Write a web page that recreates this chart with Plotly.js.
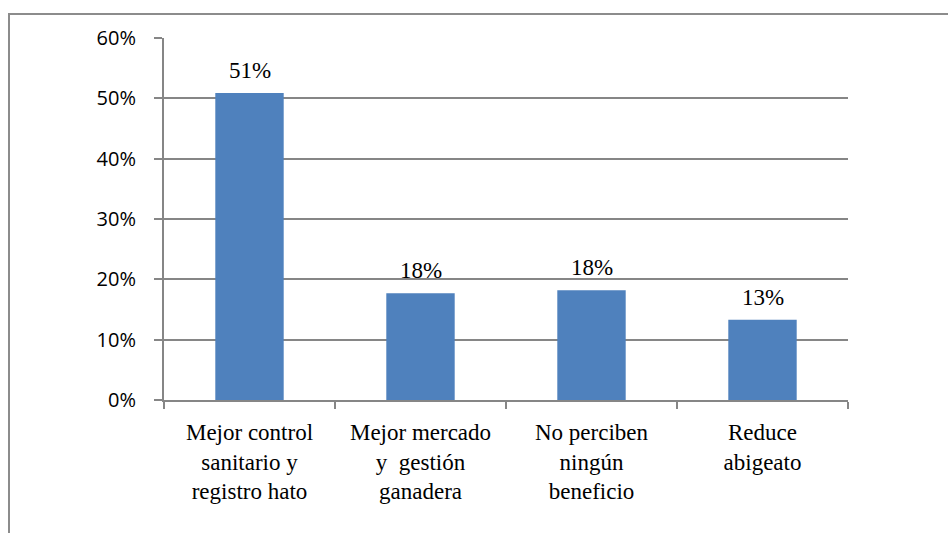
<!DOCTYPE html>
<html>
<head>
<meta charset="utf-8">
<script src="https://cdn.plot.ly/plotly-3.0.1.min.js"></script>
<style>
html,body{margin:0;padding:0;background:#fff;}
#chart{width:948px;height:533px;}
#frame{position:absolute;left:8px;top:13px;width:960px;height:560px;border:2px solid #8c8c8c;pointer-events:none;box-sizing:border-box;}
</style>
</head>
<body>
<div id="chart"></div>
<div id="frame"></div>
<script>
const categories = ["Mejor control<br>sanitario y<br>registro hato", "Mejor mercado<br>y  gestión<br>ganadera", "No perciben<br>ningún<br>beneficio", "Reduce<br>abigeato"];
const values = [0.509, 0.177, 0.182, 0.133];
const valueLabels = ["51%", "18%", "18%", "13%"];
const yTickVals = [0, 0.1, 0.2, 0.3, 0.4, 0.5, 0.6];
const yTickText = ["0%", "10%", "20%", "30%", "40%", "50%", "60%"];

const serif = "'Liberation Serif', 'Times New Roman', serif";

const trace = {
  type: "bar",
  x: categories,
  y: values,
  marker: {color: "#4F81BD"},
  hoverinfo: "none"
};

const annotations = categories.map((c, i) => ({
  x: c, y: values[i], xref: "x", yref: "y",
  text: valueLabels[i], showarrow: false,
  yanchor: "bottom", yshift: 8,
  font: {family: serif, size: 23, color: "#000"}
}));

const layout = {
  width: 948, height: 533,
  margin: {l: 164, r: 100, t: 38, b: 133},
  paper_bgcolor: "#fff", plot_bgcolor: "#fff",
  showlegend: false,
  bargap: 0.6,
  font: {family: serif},
  xaxis: {
    showline: true, linecolor: "#868686", linewidth: 2,
    ticks: "outside", tickson: "boundaries", ticklen: 7, tickcolor: "#868686", tickwidth: 2,
    tickfont: {family: serif, size: 23, color: "#000"},
    ticklabelstandoff: 10,
    showgrid: false, fixedrange: true
  },
  yaxis: {
    range: [0, 0.6],
    tickvals: yTickVals, ticktext: yTickText,
    showline: true, linecolor: "#868686", linewidth: 2,
    ticks: "outside", ticklen: 8, tickcolor: "#868686", tickwidth: 2,
    showgrid: true, gridcolor: "#868686", gridwidth: 2,
    zeroline: false,
    tickfont: {family: "Open Sans", size: 20, color: "#000"},
    ticklabelstandoff: 14,
    fixedrange: true
  },
  annotations: annotations
};

Plotly.newPlot("chart", [trace], layout, {displayModeBar: false, staticPlot: true});
</script>
</body>
</html>
